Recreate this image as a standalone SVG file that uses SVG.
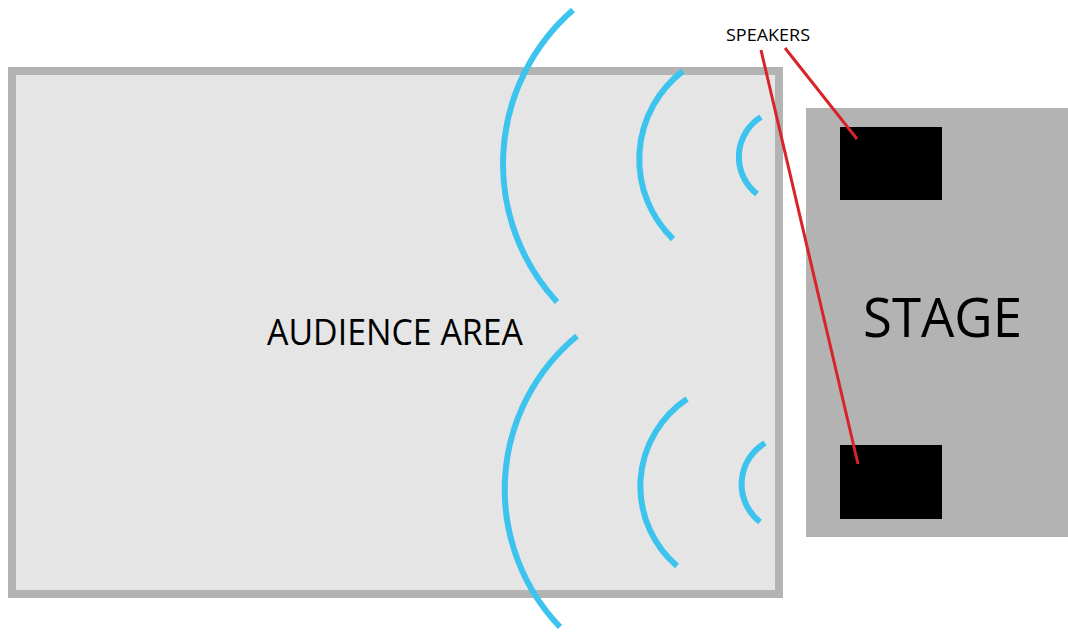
<svg xmlns="http://www.w3.org/2000/svg" width="1068" height="632" viewBox="0 0 1068 632">
<style>
.lbl{font-family:"Open Sans","Noto Sans","Liberation Sans",sans-serif;fill:#000}
.wave{fill:none;stroke:#3cc4ef;stroke-width:6}
.spk{fill:#000}
.lead{stroke:#d9232a;stroke-width:3;fill:none}
</style>
<rect width="1068" height="632" fill="#fff"/>
<g id="audience">
<rect x="12" y="71" width="767" height="523" fill="#e5e5e5" stroke="#b3b3b3" stroke-width="8"/>
<text class="lbl" x="267" y="345" font-size="36" textLength="256" lengthAdjust="spacingAndGlyphs">AUDIENCE AREA</text>
</g>
<g id="stage">
<rect x="806" y="108" width="262" height="429" fill="#b3b3b3"/>
<text class="lbl" x="863" y="337" font-size="54" textLength="159" lengthAdjust="spacingAndGlyphs">STAGE</text>
</g>
<g id="speaker-top"><rect class="spk" x="840" y="127" width="102" height="73"/></g>
<g id="speaker-bottom"><rect class="spk" x="840" y="445" width="102" height="74"/></g>
<g id="waves">
<path class="wave" d="M573,10 A204,204 0 0 0 557,302"/>
<path class="wave" d="M683,71 A111,111 0 0 0 673,239"/>
<path class="wave" d="M761,117 A47,47 0 0 0 757,194"/>
<path class="wave" d="M577,336 A199,199 0 0 0 560,627"/>
<path class="wave" d="M687,399 A105,105 0 0 0 677,566"/>
<path class="wave" d="M765,443 A48,48 0 0 0 760,522"/>
</g>
<g id="label-speakers">
<text class="lbl" x="726" y="41" font-size="17" textLength="84" lengthAdjust="spacingAndGlyphs">SPEAKERS</text>
</g>
<g id="connectors">
<line class="lead" x1="761" y1="50" x2="858" y2="464"/>
<line class="lead" x1="785" y1="48" x2="857" y2="139"/>
</g>
</svg>
